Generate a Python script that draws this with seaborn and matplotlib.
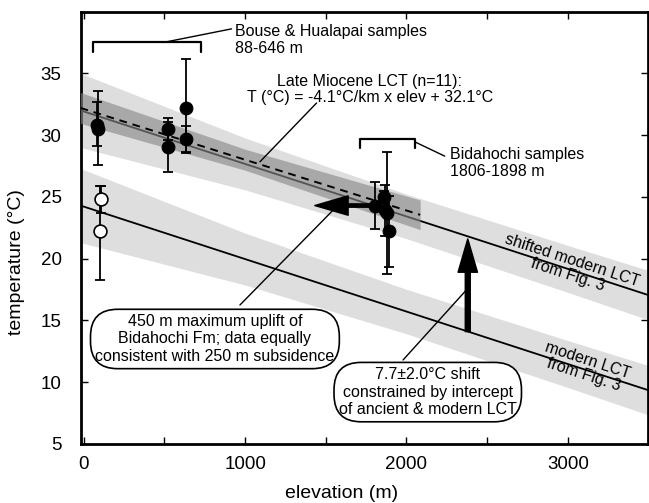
import numpy as np
import seaborn as sns
import matplotlib.pyplot as plt

# Bouse & Hualapai samples (filled symbols)
bouse_elev = [80, 90, 524, 524, 632, 634]
bouse_temp = [30.8, 30.5, 30.5, 29.05, 32.2, 29.65]
bouse_err_lo = [1.7, 2.9, 0.9, 2.05, 3.6, 1.1]
bouse_err_hi = [1.9, 3.1, 0.9, 2.05, 4.0, 1.1]

# open symbols near the base
open_elev = [105, 101]
open_temp = [24.8, 22.2]
open_err_lo = [1.1, 3.9]
open_err_hi = [1.1, 3.7]

# Bidahochi samples
bida_elev = [1804, 1862, 1868, 1878, 1892]
bida_temp = [24.3, 25.0, 23.9, 23.7, 22.2]
bida_err_lo = [1.9, 0.5, 2.1, 4.95, 2.9]
bida_err_hi = [1.9, 0.5, 2.1, 4.95, 2.9]

# lapse-rate lines (end points)
line_elev = [-20, 3500]
modern_temp = [24.3, 9.35]
shifted_temp = [32.0, 17.05]
miocene_elev = [-20, 2085]
miocene_temp = [32.2, 23.55]

# confidence bands (half widths)
band_elev = [-20, 1000, 2000, 3000, 3500]
band_half = [3.0, 2.1, 1.8, 1.9, 2.0]
miocene_band_elev = [-20, 1000, 2085]
miocene_band_half = [1.25, 0.85, 1.2]

# uplift arrow and shift arrow
uplift_from, uplift_to, uplift_temp = 1804, 1432, 24.3
shift_elev, shift_from, shift_to = 2380, 14.1, 21.6

sns.set_theme(style="ticks")
plt.rcParams['font.family'] = ['Liberation Sans', 'DejaVu Sans']
plt.rcParams['text.color'] = 'black'
plt.rcParams['axes.labelcolor'] = 'black'

fig = plt.figure(figsize=(6.49, 5.03), dpi=100)
ax = fig.add_axes([0.1248, 0.1173, 0.8744, 0.8597])

light = '#dedede'
# light bands for modern and shifted LCT
for temps in (modern_temp, shifted_temp):
    center = np.interp(band_elev, line_elev, temps)
    ax.fill_between(band_elev, center - np.array(band_half), center + np.array(band_half),
                    color=light, lw=0, zorder=1)
    sns.lineplot(x=line_elev, y=temps, color='black', lw=1.3, ax=ax, zorder=2)

# dark band for the Late Miocene LCT
mio_center = np.interp(miocene_band_elev, miocene_elev, miocene_temp)
ax.fill_between(miocene_band_elev, mio_center - np.array(miocene_band_half),
                mio_center + np.array(miocene_band_half),
                color='#878787', alpha=0.62, lw=0, zorder=3)
sns.lineplot(x=miocene_elev, y=miocene_temp, color='black', lw=1.4,
             linestyle=(0, (4, 3)), ax=ax, zorder=4)

# error bars and points
ax.errorbar(bouse_elev, bouse_temp, yerr=[bouse_err_lo, bouse_err_hi], fmt='none',
            ecolor='black', elinewidth=1.3, capsize=3.5, capthick=1.3, zorder=5)
ax.errorbar(open_elev, open_temp, yerr=[open_err_lo, open_err_hi], fmt='none',
            ecolor='black', elinewidth=1.3, capsize=3.5, capthick=1.3, zorder=5)
ax.errorbar(bida_elev, bida_temp, yerr=[bida_err_lo, bida_err_hi], fmt='none',
            ecolor='black', elinewidth=1.3, capsize=3.5, capthick=1.3, zorder=5)
sns.scatterplot(x=bouse_elev + bida_elev, y=bouse_temp + bida_temp, color='black',
                edgecolor='black', s=85, ax=ax, zorder=6)
sns.scatterplot(x=open_elev, y=open_temp, color='white', edgecolor='black',
                linewidth=1.2, s=85, ax=ax, zorder=6)

# arrows
ax.annotate('', xy=(uplift_to, uplift_temp), xytext=(uplift_from, uplift_temp),
            arrowprops=dict(facecolor='black', edgecolor='black', width=2.4,
                            headwidth=14, headlength=24, shrink=0), zorder=7)
ax.annotate('', xy=(shift_elev, shift_to), xytext=(shift_elev, shift_from),
            arrowprops=dict(facecolor='black', edgecolor='black', width=3.6,
                            headwidth=14, headlength=24, shrink=0), zorder=7)

fs = 11.5
# Bouse bracket and label
ax.plot([59, 59, 724, 724], [36.7, 37.5, 37.5, 36.7], color='black', lw=1.6, zorder=7)
ax.plot([493, 916], [37.5, 38.6], color='black', lw=1, zorder=7)
ax.text(937, 37.7, 'Bouse & Hualapai samples\n88-646 m', fontsize=fs,
        ha='left', va='center', linespacing=1.15)

# Late Miocene label
ax.text(1773, 33.7, 'Late Miocene LCT (n=11):\nT (°C) = -4.1°C/km x elev + 32.1°C',
        fontsize=fs, ha='center', va='center', multialignment='center', linespacing=1.1)
ax.plot([1443, 1092], [32.6, 27.84], color='black', lw=1, zorder=7)

# Bidahochi bracket and label
ax.plot([1711, 1711, 2051, 2051], [28.92, 29.68, 29.68, 28.92], color='black', lw=1.6, zorder=7)
ax.plot([2051, 2237], [29.46, 28.3], color='black', lw=1, zorder=7)
ax.text(2268, 27.76, 'Bidahochi samples\n1806-1898 m', fontsize=fs,
        ha='left', va='center', linespacing=1.15)

# labels along the lines
ax.text(3012, 19.3, 'shifted modern LCT\nfrom Fig. 3', fontsize=fs, rotation=-18,
        rotation_mode='anchor', ha='center', va='center', multialignment='center',
        linespacing=1.0, zorder=8)
ax.text(3111, 11.2, 'modern LCT\nfrom Fig. 3', fontsize=fs, rotation=-18,
        rotation_mode='anchor', ha='center', va='center', multialignment='center',
        linespacing=1.0, zorder=8)

# rounded boxes
box = dict(boxstyle='round,pad=0.3,rounding_size=1.7', fc='white', ec='black', lw=1.2)
ax.plot([968, 1556], [16.25, 24.07], color='black', lw=1, zorder=7)
ax.text(813, 13.5, '450 m maximum uplift of\nBidahochi Fm; data equally\n'
        'consistent with 250 m subsidence', fontsize=fs, ha='center', va='center',
        multialignment='center', bbox=box, zorder=9)
ax.plot([1979, 2371], [11.8, 17.46], color='black', lw=1, zorder=7)
ax.text(2132, 9.2, '7.7±2.0°C shift\nconstrained by intercept\nof ancient & modern LCT',
        fontsize=fs, ha='center', va='center', multialignment='center', bbox=box, zorder=9)

ax.set_xlim(-17, 3500)
ax.set_ylim(5, 40)
ax.set_xticks(np.arange(0, 3501, 500))
ax.set_xticklabels(['0', '', '1000', '', '2000', '', '3000', ''])
ax.set_yticks(np.arange(5, 36, 5))
ax.tick_params(direction='in', length=5, width=1, top=True, right=True,
               labelsize=13.5, colors='black')
ax.tick_params(axis='x', pad=9)
ax.tick_params(axis='y', pad=14)
for sp in ax.spines.values():
    sp.set_linewidth(2)
    sp.set_color('black')
ax.set_xlabel('elevation (m)', fontsize=14, labelpad=4)
ax.set_ylabel('temperature (°C)', fontsize=14, labelpad=6)
ax.xaxis.set_label_coords(0.46, -0.095)
ax.yaxis.set_label_coords(-0.098, 0.42)

fig.savefig('out.png', dpi=100)
